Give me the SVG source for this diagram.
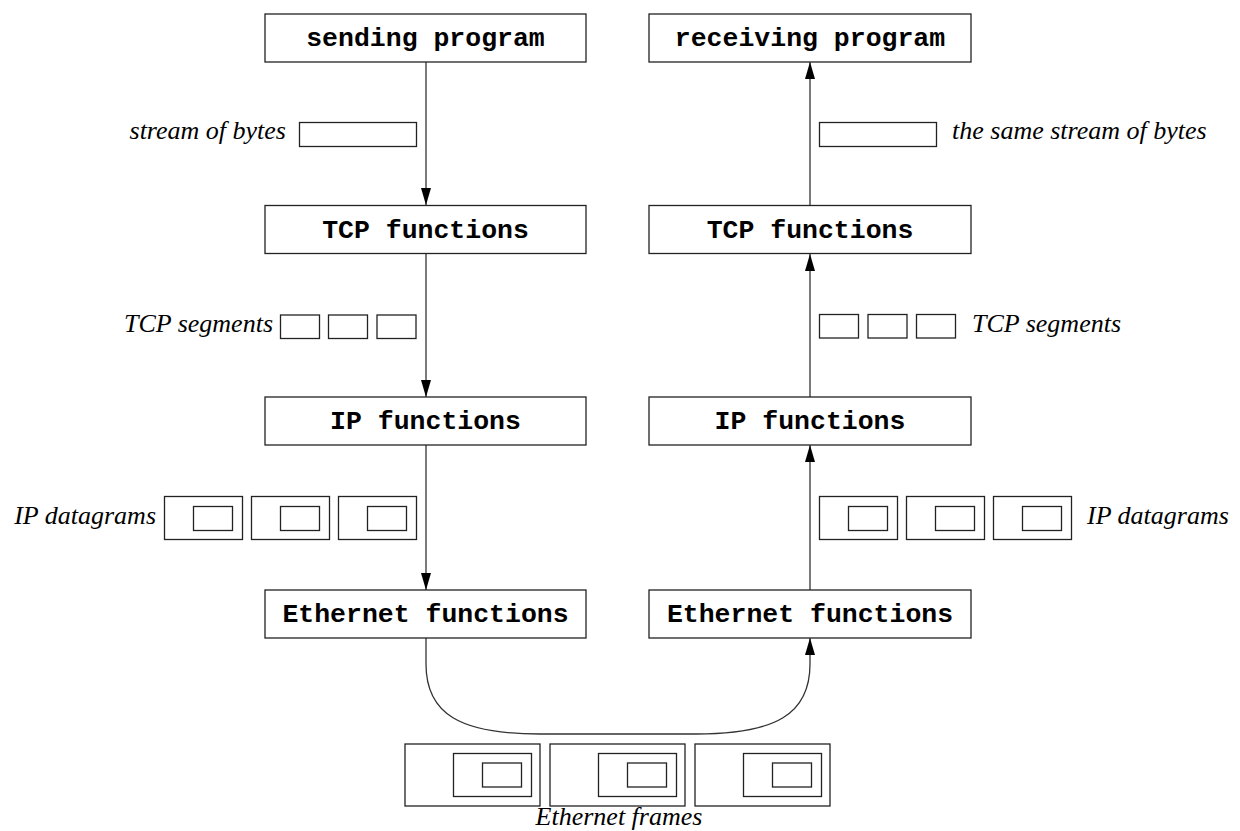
<svg xmlns="http://www.w3.org/2000/svg" width="1240" height="831" viewBox="0 0 1240 831">
  <style>
    .box { fill: #fff; stroke: #222; stroke-width: 1.3; }
    .pkt { fill: none; stroke: #222; stroke-width: 1.3; }
    .lbl { font-family: "Liberation Mono", "Courier New", monospace; font-weight: bold; font-size: 26.5px; fill: #000; text-anchor: middle; }
    .it { font-family: "Liberation Serif", "Times New Roman", serif; font-style: italic; font-size: 26px; fill: #000; }
    .conn { fill: none; stroke: #333; stroke-width: 1.3; }
  </style>
  <defs>
    <marker id="arr" markerUnits="userSpaceOnUse" markerWidth="17" markerHeight="11" viewBox="0 0 17 10" refX="17" refY="5" orient="auto">
      <path d="M0,0 L17,5 L0,10 Z" fill="#000"/>
    </marker>
  </defs>
  <rect width="1240" height="831" fill="#fff"/>

  <g id="connectors">
    <line class="conn" x1="426" y1="62" x2="426" y2="205" marker-end="url(#arr)"/>
    <line class="conn" x1="426" y1="254" x2="426" y2="397" marker-end="url(#arr)"/>
    <line class="conn" x1="426" y1="445" x2="426" y2="590" marker-end="url(#arr)"/>
    <line class="conn" x1="810" y1="205" x2="810" y2="62" marker-end="url(#arr)"/>
    <line class="conn" x1="810" y1="397" x2="810" y2="254" marker-end="url(#arr)"/>
    <line class="conn" x1="810" y1="590" x2="810" y2="445" marker-end="url(#arr)"/>
    <path class="conn" d="M426,638 L426,664 C426,714 460,734 540,734 L696,734 C776,734 810,714 810,664 L810,638" marker-end="url(#arr)"/>
  </g>

  <g id="sending-program">
    <rect class="box" x="265" y="14" width="321" height="48"/>
    <text class="lbl" x="425.5" y="46">sending program</text>
  </g>
  <g id="receiving-program">
    <rect class="box" x="649" y="14" width="322" height="48"/>
    <text class="lbl" x="810" y="46">receiving program</text>
  </g>
  <g id="tcp-left">
    <rect class="box" x="265" y="205.5" width="321" height="48"/>
    <text class="lbl" x="425.5" y="237.5">TCP functions</text>
  </g>
  <g id="tcp-right">
    <rect class="box" x="649" y="205.5" width="322" height="48"/>
    <text class="lbl" x="810" y="237.5">TCP functions</text>
  </g>
  <g id="ip-left">
    <rect class="box" x="265" y="397" width="321" height="48"/>
    <text class="lbl" x="425.5" y="429">IP functions</text>
  </g>
  <g id="ip-right">
    <rect class="box" x="649" y="397" width="322" height="48"/>
    <text class="lbl" x="810" y="429">IP functions</text>
  </g>
  <g id="eth-left">
    <rect class="box" x="265" y="590" width="321" height="48"/>
    <text class="lbl" x="425.5" y="622">Ethernet functions</text>
  </g>
  <g id="eth-right">
    <rect class="box" x="649" y="590" width="322" height="48"/>
    <text class="lbl" x="810" y="622">Ethernet functions</text>
  </g>

  <g id="stream-left">
    <text class="it" x="286" y="139" text-anchor="end">stream of bytes</text>
    <rect class="pkt" x="299.5" y="122.5" width="117" height="24"/>
  </g>
  <g id="stream-right">
    <rect class="pkt" x="819.5" y="122.5" width="117" height="24"/>
    <text class="it" x="952" y="139">the same stream of bytes</text>
  </g>

  <g id="segments-left">
    <text class="it" x="273" y="332" text-anchor="end">TCP segments</text>
    <rect class="pkt" x="280.5" y="315" width="39" height="23.5"/>
    <rect class="pkt" x="328.5" y="315" width="39" height="23.5"/>
    <rect class="pkt" x="377" y="315" width="39" height="23.5"/>
  </g>
  <g id="segments-right">
    <rect class="pkt" x="819.5" y="314.5" width="39" height="23.5"/>
    <rect class="pkt" x="868" y="314.5" width="39" height="23.5"/>
    <rect class="pkt" x="916.5" y="314.5" width="39" height="23.5"/>
    <text class="it" x="972" y="332">TCP segments</text>
  </g>

  <g id="datagrams-left">
    <text class="it" x="156" y="524" text-anchor="end">IP datagrams</text>
    <rect class="pkt" x="164.5" y="496.5" width="78" height="43"/>
    <rect class="pkt" x="193.5" y="506.5" width="39" height="24"/>
    <rect class="pkt" x="251.5" y="496.5" width="78" height="43"/>
    <rect class="pkt" x="280.5" y="506.5" width="39" height="24"/>
    <rect class="pkt" x="338.5" y="496.5" width="78" height="43"/>
    <rect class="pkt" x="367.5" y="506.5" width="39" height="24"/>
  </g>
  <g id="datagrams-right">
    <rect class="pkt" x="819.5" y="496.5" width="78" height="43"/>
    <rect class="pkt" x="848.5" y="506.5" width="39" height="24"/>
    <rect class="pkt" x="906.5" y="496.5" width="78" height="43"/>
    <rect class="pkt" x="935.5" y="506.5" width="39" height="24"/>
    <rect class="pkt" x="993.5" y="496.5" width="78" height="43"/>
    <rect class="pkt" x="1022.5" y="506.5" width="39" height="24"/>
    <text class="it" x="1087" y="524">IP datagrams</text>
  </g>

  <g id="ethernet-frames">
    <rect class="pkt" x="405" y="744" width="135" height="62"/>
    <rect class="pkt" x="453.5" y="753.5" width="78" height="43"/>
    <rect class="pkt" x="482.5" y="763" width="39" height="24"/>
    <rect class="pkt" x="550" y="744" width="135" height="62"/>
    <rect class="pkt" x="598.5" y="753.5" width="78" height="43"/>
    <rect class="pkt" x="627.5" y="763" width="39" height="24"/>
    <rect class="pkt" x="695" y="744" width="135" height="62"/>
    <rect class="pkt" x="743.5" y="753.5" width="78" height="43"/>
    <rect class="pkt" x="772.5" y="763" width="39" height="24"/>
    <text class="it" x="619" y="825" text-anchor="middle">Ethernet frames</text>
  </g>
</svg>
